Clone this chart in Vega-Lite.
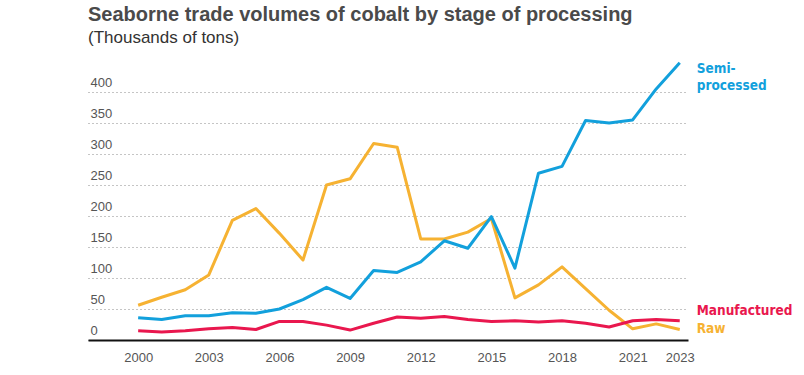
{
  "$schema": "https://vega.github.io/schema/vega-lite/v6.json",
  "width": 600,
  "height": 279,
  "autosize": {"type": "none"},
  "padding": {"left": 88, "top": 61, "right": 116, "bottom": 35},
  "background": "white",
  "title": {
    "text": "Seaborne trade volumes of cobalt by stage of processing",
    "subtitle": "(Thousands of tons)",
    "anchor": "start",
    "frame": "group",
    "font": "Liberation Sans",
    "fontSize": 20,
    "fontWeight": "bold",
    "color": "#4a4a4a",
    "subtitleFont": "Liberation Sans",
    "subtitleFontSize": 17,
    "subtitleColor": "#333333",
    "subtitlePadding": 5,
    "offset": 15
  },
  "config": {
    "view": {"stroke": null},
    "font": "Liberation Sans"
  },
  "data": {
    "values": [
      {"year": 2000, "series": "Raw", "value": 56},
      {"year": 2001, "series": "Raw", "value": 69},
      {"year": 2002, "series": "Raw", "value": 81},
      {"year": 2003, "series": "Raw", "value": 105},
      {"year": 2004, "series": "Raw", "value": 193},
      {"year": 2005, "series": "Raw", "value": 212},
      {"year": 2006, "series": "Raw", "value": 172},
      {"year": 2007, "series": "Raw", "value": 129},
      {"year": 2008, "series": "Raw", "value": 250},
      {"year": 2009, "series": "Raw", "value": 260},
      {"year": 2010, "series": "Raw", "value": 317},
      {"year": 2011, "series": "Raw", "value": 311},
      {"year": 2012, "series": "Raw", "value": 163},
      {"year": 2013, "series": "Raw", "value": 163},
      {"year": 2014, "series": "Raw", "value": 174},
      {"year": 2015, "series": "Raw", "value": 196},
      {"year": 2016, "series": "Raw", "value": 68},
      {"year": 2017, "series": "Raw", "value": 89},
      {"year": 2018, "series": "Raw", "value": 118},
      {"year": 2019, "series": "Raw", "value": 83},
      {"year": 2020, "series": "Raw", "value": 48},
      {"year": 2021, "series": "Raw", "value": 18},
      {"year": 2022, "series": "Raw", "value": 26},
      {"year": 2023, "series": "Raw", "value": 17},
      {"year": 2000, "series": "Semi-processed", "value": 36},
      {"year": 2001, "series": "Semi-processed", "value": 33},
      {"year": 2002, "series": "Semi-processed", "value": 39},
      {"year": 2003, "series": "Semi-processed", "value": 39},
      {"year": 2004, "series": "Semi-processed", "value": 44},
      {"year": 2005, "series": "Semi-processed", "value": 43},
      {"year": 2006, "series": "Semi-processed", "value": 50},
      {"year": 2007, "series": "Semi-processed", "value": 65},
      {"year": 2008, "series": "Semi-processed", "value": 85},
      {"year": 2009, "series": "Semi-processed", "value": 67},
      {"year": 2010, "series": "Semi-processed", "value": 112},
      {"year": 2011, "series": "Semi-processed", "value": 109},
      {"year": 2012, "series": "Semi-processed", "value": 126},
      {"year": 2013, "series": "Semi-processed", "value": 160},
      {"year": 2014, "series": "Semi-processed", "value": 148},
      {"year": 2015, "series": "Semi-processed", "value": 199},
      {"year": 2016, "series": "Semi-processed", "value": 116},
      {"year": 2017, "series": "Semi-processed", "value": 269},
      {"year": 2018, "series": "Semi-processed", "value": 280},
      {"year": 2019, "series": "Semi-processed", "value": 354},
      {"year": 2020, "series": "Semi-processed", "value": 350},
      {"year": 2021, "series": "Semi-processed", "value": 355},
      {"year": 2022, "series": "Semi-processed", "value": 405},
      {"year": 2023, "series": "Semi-processed", "value": 447},
      {"year": 2000, "series": "Manufactured", "value": 15},
      {"year": 2001, "series": "Manufactured", "value": 13},
      {"year": 2002, "series": "Manufactured", "value": 15},
      {"year": 2003, "series": "Manufactured", "value": 18},
      {"year": 2004, "series": "Manufactured", "value": 20},
      {"year": 2005, "series": "Manufactured", "value": 17},
      {"year": 2006, "series": "Manufactured", "value": 30},
      {"year": 2007, "series": "Manufactured", "value": 30},
      {"year": 2008, "series": "Manufactured", "value": 24},
      {"year": 2009, "series": "Manufactured", "value": 16},
      {"year": 2010, "series": "Manufactured", "value": 27},
      {"year": 2011, "series": "Manufactured", "value": 37},
      {"year": 2012, "series": "Manufactured", "value": 35},
      {"year": 2013, "series": "Manufactured", "value": 38},
      {"year": 2014, "series": "Manufactured", "value": 33},
      {"year": 2015, "series": "Manufactured", "value": 30},
      {"year": 2016, "series": "Manufactured", "value": 31},
      {"year": 2017, "series": "Manufactured", "value": 29},
      {"year": 2018, "series": "Manufactured", "value": 31},
      {"year": 2019, "series": "Manufactured", "value": 27},
      {"year": 2020, "series": "Manufactured", "value": 21},
      {"year": 2021, "series": "Manufactured", "value": 31},
      {"year": 2022, "series": "Manufactured", "value": 33},
      {"year": 2023, "series": "Manufactured", "value": 31}
    ]
  },
  "encoding": {
    "x": {
      "field": "year",
      "type": "quantitative",
      "scale": {"domain": [1997.87, 2023.35], "nice": false, "zero": false},
      "axis": {
        "title": null,
        "values": [2000, 2003, 2006, 2009, 2012, 2015, 2018, 2021, 2023],
        "format": "d",
        "grid": false,
        "ticks": false,
        "tickSize": 0,
        "domain": true,
        "domainColor": "#111111",
        "domainWidth": 2,
        "labelPadding": 11,
        "labelFontSize": 13,
        "labelColor": "#555555",
        "labelFont": "Liberation Sans",
        "zindex": 2
      }
    },
    "y": {
      "field": "value",
      "type": "quantitative",
      "scale": {"domain": [0, 450], "nice": false},
      "axis": {
        "title": null,
        "values": [0, 50, 100, 150, 200, 250, 300, 350, 400],
        "grid": true,
        "gridDash": [1, 3],
        "gridColor": "#8a8a8a",
        "gridWidth": 1,
        "ticks": false,
        "tickSize": 0,
        "domain": false,
        "labelAlign": "left",
        "labelBaseline": "alphabetic",
        "labelPadding": -2,
        "labelOffset": -6,
        "labelFontSize": 13,
        "labelColor": "#555555",
        "labelFont": "Liberation Sans",
        "zindex": 0
      }
    }
  },
  "layer": [
    {
      "mark": {"type": "line", "strokeWidth": 3, "strokeJoin": "round"},
      "encoding": {
        "color": {
          "field": "series",
          "type": "nominal",
          "scale": {"domain": ["Semi-processed", "Raw", "Manufactured"], "range": ["#12A0DC", "#F6B232", "#E9174E"]},
          "legend": null
        }
      }
    },
    {
      "transform": [{"filter": "datum.year == 2023 && datum.series == 'Semi-processed'"}],
      "mark": {"type": "text", "text": ["Semi-", "processed"], "align": "left", "baseline": "alphabetic", "dx": 17, "dy": 10, "lineHeight": 17, "font": "DejaVu Sans Condensed, Liberation Sans", "fontSize": 13.5, "fontWeight": "bold", "color": "#12A0DC"},
      "encoding": {}
    },
    {
      "transform": [{"filter": "datum.year == 2023 && datum.series == 'Manufactured'"}],
      "mark": {"type": "text", "text": "Manufactured", "align": "left", "baseline": "alphabetic", "dx": 17, "dy": -6, "font": "DejaVu Sans Condensed, Liberation Sans", "fontSize": 13.5, "fontWeight": "bold", "color": "#E9174E"},
      "encoding": {}
    },
    {
      "transform": [{"filter": "datum.year == 2023 && datum.series == 'Raw'"}],
      "mark": {"type": "text", "text": "Raw", "align": "left", "baseline": "alphabetic", "dx": 17, "dy": 4, "font": "DejaVu Sans Condensed, Liberation Sans", "fontSize": 13.5, "fontWeight": "bold", "color": "#F6B232"},
      "encoding": {}
    }
  ]
}
